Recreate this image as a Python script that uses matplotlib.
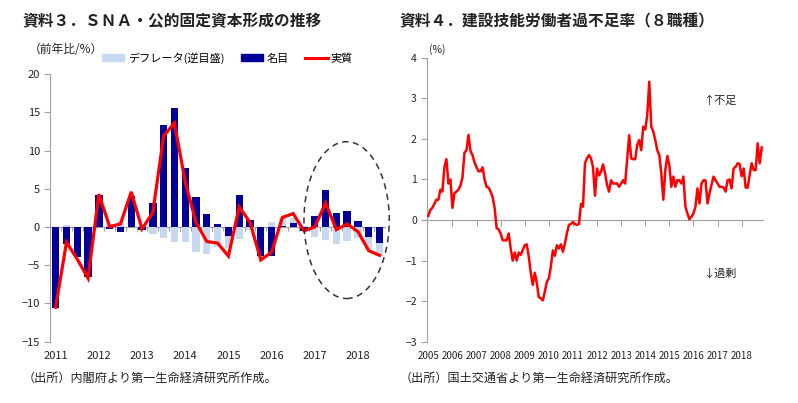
import matplotlib
matplotlib.use('Agg')
import matplotlib.pyplot as plt
import matplotlib.transforms as mtransforms
from matplotlib.patches import Ellipse, Patch
from matplotlib.lines import Line2D

plt.rcParams['font.family'] = ['Noto Sans CJK JP', 'DejaVu Sans']

# ---- 資料3: SNA 公的固定資本形成 (quarterly, 2011Q1-2018Q3) ----
years_left = ['2011', '2012', '2013', '2014', '2015', '2016', '2017', '2018']
nominal = [-10.6, -2.2, -3.9, -6.5, 4.2, -0.3, -0.6, 4.1,
           -0.4, 3.1, 13.3, 15.6, 7.7, 3.9, 1.7, 0.45,
           -1.2, 4.2, 0.9, -3.75, -3.75, 0.1, 0.55, -0.55,
           1.45, 4.85, 1.8, 2.1, 0.85, -1.25, -2.15]
deflator = [0.0, 0.2, -0.3, -0.2, 0.1, 0.35, 0.8, 0.5,
            0.15, -0.9, -1.45, -1.9, -1.9, -3.3, -3.5, -2.6,
            -2.7, -1.55, -0.4, -0.5, 0.6, 1.2, 1.2, 0.1,
            -1.35, -1.7, -2.2, -1.85, -1.45, -2.9, -3.75]
real = [-10.5, -2.0, -4.2, -6.7, 4.3, 0.05, 0.4, 4.6,
        -0.25, 1.9, 11.9, 13.6, 5.9, 0.6, -1.9, -2.1,
        -3.8, 2.65, 0.6, -4.3, -3.3, 1.25, 1.75, -0.5,
        0.0, 3.15, -0.35, 0.4, -0.6, -3.1, -3.7]

# ---- 資料4: 建設技能労働者過不足率 (monthly, 2005/1-2018/11) ----
years_right = [str(y) for y in range(2005, 2019)]
shortage = [0.1, 0.25, 0.3, 0.4, 0.5, 0.5, 0.75, 0.7, 1.3, 1.5, 0.9, 1.0,
            0.3, 0.66, 0.7, 0.75, 0.85, 1.05, 1.66, 1.72, 2.1, 1.7, 1.6, 1.42,
            1.3, 1.2, 1.2, 1.3, 1.0, 0.82, 0.8, 0.7, 0.57, 0.3, -0.2, -0.23,
            -0.33, -0.5, -0.5, -0.5, -0.33, -0.7, -1.0, -0.8, -1.0, -0.8, -0.86, -0.74,
            -0.62, -0.6, -0.9, -1.3, -1.6, -1.3, -1.55, -1.9, -1.93, -1.98, -1.77, -1.52,
            -1.44, -1.15, -0.75, -0.88, -0.62, -0.7, -0.6, -0.78, -0.57, -0.33, -0.12, -0.1,
            -0.05, -0.1, -0.12, -0.1, 0.4, 0.33, 1.4, 1.52, 1.6, 1.52, 1.3, 0.6,
            1.27, 1.1, 1.2, 1.37, 1.15, 0.86, 0.7, 0.98, 0.9, 0.9, 0.9, 0.82,
            0.9, 0.98, 0.9, 1.48, 2.09, 1.52, 1.5, 1.5, 1.85, 1.97, 1.72, 2.3,
            2.23, 2.59, 3.41, 2.3, 2.18, 1.97, 1.72, 1.6, 1.15, 0.5, 1.23, 1.58,
            1.35, 0.82, 1.07, 0.82, 0.98, 0.98, 0.9, 1.07, 0.33, 0.16, 0.02, 0.08,
            0.16, 0.33, 0.78, 0.41, 0.9, 0.98, 0.98, 0.41, 0.66, 0.86, 1.07, 0.98,
            0.9, 0.82, 0.82, 0.8, 0.7, 0.98, 1.0, 0.78, 1.27, 1.31, 1.4, 1.38,
            1.08, 1.27, 0.8, 0.8, 1.11, 1.4, 1.23, 1.23, 1.89, 1.4, 1.79]

LIGHT = '#C6D9F1'
DARK = '#000099'
RED = '#FF0000'
AXIS = '#A0A0A0'
TXT = '#222222'

fig = plt.figure(figsize=(7.98, 4.03), dpi=100)

# ================= left chart =================
ax1 = fig.add_axes([0.063, 0.152, 0.4194, 0.6643])
x = list(range(len(nominal)))
ax1.bar(x, deflator, width=0.68, color=LIGHT, zorder=2)
ax1.bar(x, nominal, width=0.68, color=DARK, zorder=3)
ax1.plot(x, real, color=RED, lw=2.3, zorder=4, solid_joinstyle='miter')

ax1.set_xlim(-0.5, len(nominal) - 0.5)
ax1.set_ylim(-15, 20)
ax1.set_yticks(range(-15, 21, 5))
for s in ['top', 'right', 'bottom']:
    ax1.spines[s].set_visible(False)
ax1.spines['left'].set_color(AXIS)
ax1.tick_params(axis='y', colors=AXIS, labelcolor=TXT, labelsize=8, length=4, width=0.8)
ax1.tick_params(axis='x', length=0, labelbottom=False)

zero1 = ax1.secondary_xaxis(15 / 35)
zero1.spines['bottom'].set_color(AXIS)
zero1.set_xticks([i + 0.5 for i in x[:-1]])
zero1.tick_params(axis='x', direction='out', length=3, color=AXIS, labelbottom=False)

tr1 = mtransforms.blended_transform_factory(ax1.transData, ax1.transAxes)
for k, lab in enumerate(years_left):
    ax1.text(k * 4, -0.055, lab, transform=tr1, ha='center', va='center',
             fontsize=8, color=TXT)

ell = Ellipse((26.95, 0.9), 7.9, 20.5, fill=False, ls=(0, (4, 3)),
              lw=1.1, edgecolor='#333333', zorder=5, clip_on=False)
ax1.add_patch(ell)

handles = [Patch(color=LIGHT), Patch(color=DARK), Line2D([], [], color=RED, lw=2.2)]
fig.legend(handles, ['デフレータ(逆目盛)', '名目', '実質'], loc='center left',
           bbox_to_anchor=(0.128, 0.856), ncol=3, frameon=False, fontsize=8,
           handlelength=2.0, handleheight=0.6, handletextpad=0.3,
           columnspacing=1.5, borderpad=0, borderaxespad=0)

fig.text(0.028, 0.948, '資料３．ＳＮＡ・公的固定資本形成の推移', fontsize=11.3,
         fontweight='bold', va='center', ha='left', color=TXT)
fig.text(0.036, 0.876, '（前年比/%）', fontsize=8.5, va='center', ha='left', color=TXT)
fig.text(0.028, 0.062, '（出所）内閣府より第一生命経済研究所作成。', fontsize=8.7,
         va='center', ha='left', color=TXT)

# ================= right chart =================
ax2 = fig.add_axes([0.5355, 0.152, 0.4203, 0.7047])
m = list(range(len(shortage)))
ax2.plot(m, shortage, color=RED, lw=1.8, zorder=3)
ax2.set_xlim(-0.5, len(shortage) - 0.5)
ax2.set_ylim(-3, 4)
ax2.set_yticks(range(-3, 5))
for s in ['top', 'right', 'bottom']:
    ax2.spines[s].set_visible(False)
ax2.spines['left'].set_color(AXIS)
ax2.tick_params(axis='y', colors=AXIS, labelcolor=TXT, labelsize=7.5, length=4, width=0.8)
ax2.tick_params(axis='x', length=0, labelbottom=False)

zero2 = ax2.secondary_xaxis(3 / 7)
zero2.spines['bottom'].set_color(AXIS)
zero2.set_xticks([12 * k for k in range(1, len(years_right))])
zero2.tick_params(axis='x', direction='out', length=4, color=AXIS, labelbottom=False)

tr2 = mtransforms.blended_transform_factory(ax2.transData, ax2.transAxes)
for k, lab in enumerate(years_right):
    ax2.text(12 * k, -0.05, lab, transform=tr2, ha='center', va='center',
             fontsize=7, color=TXT)

ax2.text(0.005, 1.03, '(%)', transform=ax2.transAxes, fontsize=7.5, ha='left',
         va='center', color=TXT)
ax2.text(0.873, 0.85, '↑不足', transform=ax2.transAxes, fontsize=8, ha='center',
         va='center', color=TXT)
ax2.text(0.873, 0.242, '↓過剰', transform=ax2.transAxes, fontsize=8, ha='center',
         va='center', color=TXT)

fig.text(0.501, 0.948, '資料４．建設技能労働者過不足率（８職種）', fontsize=11.3,
         fontweight='bold', va='center', ha='left', color=TXT)
fig.text(0.501, 0.062, '（出所）国土交通省より第一生命経済研究所作成。', fontsize=8.7,
         va='center', ha='left', color=TXT)

fig.savefig('out.png', dpi=100)
